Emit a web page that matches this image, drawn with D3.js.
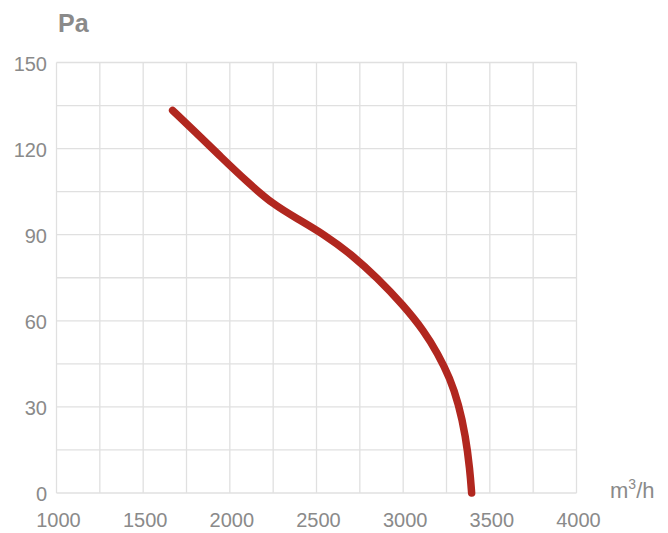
<!DOCTYPE html>
<html>
<head>
<meta charset="utf-8">
<script src="https://cdn.jsdelivr.net/npm/d3@7"></script>
<style>
	html, body { margin: 0; padding: 0; background: #fff; }
	svg { display: block; font-family: Arial, 'Liberation Sans', sans-serif; }
</style>
</head>
<body>
<svg width="668" height="533"></svg>
<script>
// airflow in m3/h, pressure in Pa
const flow = [1670, 1800, 1950, 2100, 2250, 2400, 2550, 2700, 2850, 3000, 3120, 3200, 3270, 3320, 3360, 3385, 3395];
const pressure = [133.3, 125.8, 117, 108.4, 100.5, 95.2, 89.8, 83.2, 75, 65.5, 56.5, 48.5, 40, 31, 20, 8, 0];

const xTicks = [1000, 1500, 2000, 2500, 3000, 3500, 4000];
const yTicks = [0, 30, 60, 90, 120, 150];
const xGrid = d3.range(1000, 4001, 250);
const yGrid = d3.range(0, 151, 15);

const svg = d3.select('svg'),
	textColor = '#8a8a8a',
	gridColor = '#e0e0e0';

let x = d3.scaleLinear().domain([1000, 4000]).range([56.5, 576.5]);
let y = d3.scaleLinear().domain([0, 150]).range([493, 62.5]);

let grid = svg.append('g').attr('class', 'grid');

grid.selectAll('line.v')
	.data(xGrid)
	.enter().append('line')
	.attr('class', 'v')
	.attr('x1', d => x(d)).attr('x2', d => x(d))
	.attr('y1', y(0)).attr('y2', y(150))
	.attr('stroke', gridColor)
	.attr('stroke-width', 1.3);

grid.selectAll('line.h')
	.data(yGrid)
	.enter().append('line')
	.attr('class', 'h')
	.attr('x1', x(1000)).attr('x2', x(4000))
	.attr('y1', d => y(d)).attr('y2', d => y(d))
	.attr('stroke', gridColor)
	.attr('stroke-width', 1.3);

// tick labels
svg.append('g')
	.selectAll('text')
	.data(yTicks)
	.enter().append('text')
	.attr('x', 47)
	.attr('y', d => y(d) + 8)
	.attr('text-anchor', 'end')
	.attr('font-size', 20)
	.attr('fill', textColor)
	.text(d => d);

svg.append('g')
	.selectAll('text')
	.data(xTicks)
	.enter().append('text')
	.attr('x', d => x(d) + 2)
	.attr('y', 527)
	.attr('text-anchor', 'middle')
	.attr('font-size', 20)
	.attr('fill', textColor)
	.text(d => d);

svg.append('text')
	.attr('x', 58)
	.attr('y', 32)
	.attr('font-size', 25)
	.attr('font-weight', 'bold')
	.attr('fill', textColor)
	.text('Pa');

let unit = svg.append('text')
	.attr('x', 610)
	.attr('y', 498)
	.attr('font-size', 22)
	.attr('fill', textColor);
unit.append('tspan').text('m');
unit.append('tspan').attr('font-size', 14).attr('dy', -9).text('3');
unit.append('tspan').attr('dy', 9).text('/h');

// fan curve
let points = flow.map((f, i) => [f, pressure[i]]);

let line = d3.line()
	.x(d => x(d[0]))
	.y(d => y(d[1]))
	.curve(d3.curveBasis);

svg.append('path')
	.datum(points)
	.attr('d', line)
	.attr('fill', 'none')
	.attr('stroke', '#b1271f')
	.attr('stroke-width', 7.5)
	.attr('stroke-linecap', 'round');
</script>
</body>
</html>
